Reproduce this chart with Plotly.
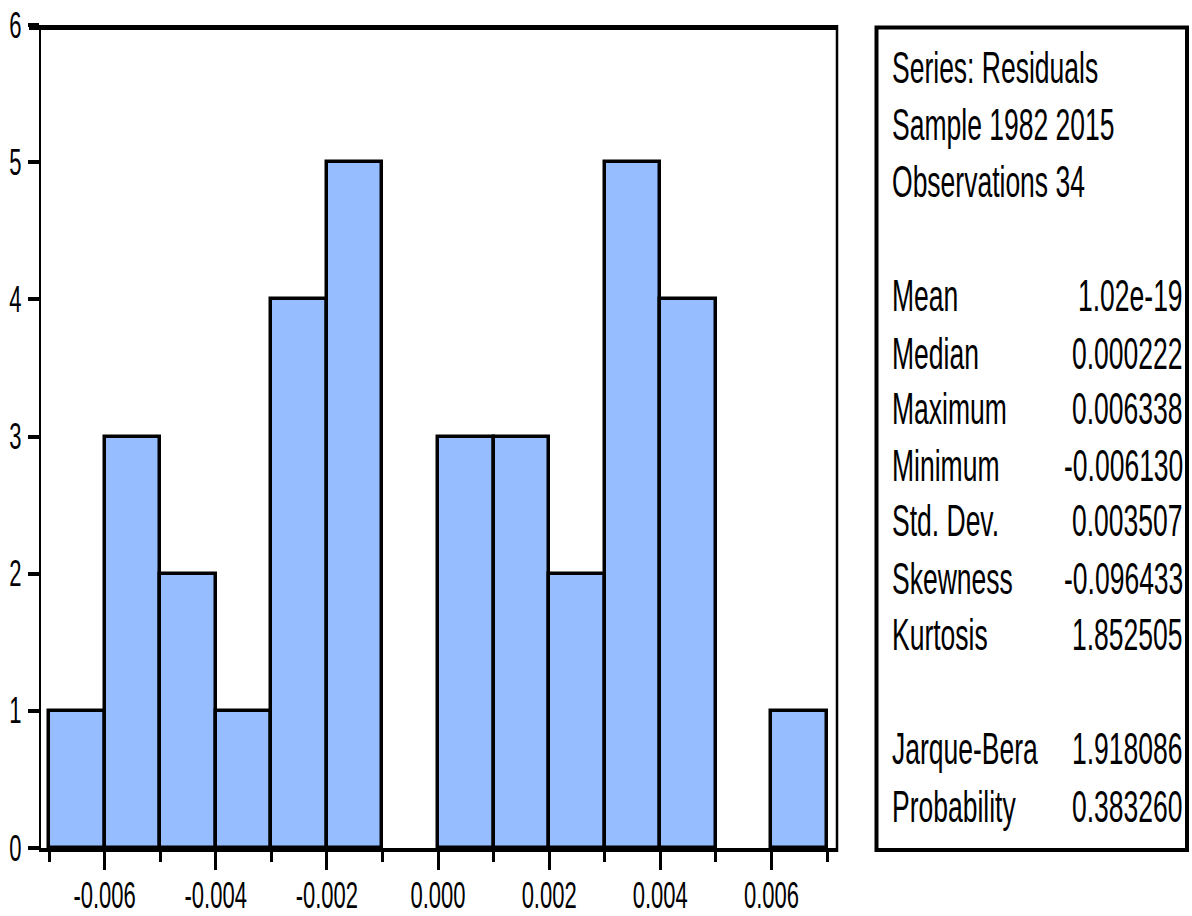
import plotly.graph_objects as go

# ---- data ----
bin_lower = [-0.007, -0.006, -0.005, -0.004, -0.003, -0.002, -0.001,
             0.000, 0.001, 0.002, 0.003, 0.004, 0.005, 0.006]
counts = [1, 3, 2, 1, 4, 5, 0, 3, 3, 2, 5, 4, 0, 1]
bin_width = 0.001

x_major = [-0.006, -0.004, -0.002, 0.000, 0.002, 0.004, 0.006]
x_major_text = ["-0.006", "-0.004", "-0.002", "0.000", "0.002", "0.004", "0.006"]
x_minor = [-0.007, -0.005, -0.003, -0.001, 0.001, 0.003, 0.005, 0.007]
y_ticks = [0, 1, 2, 3, 4, 5, 6]

header_lines = ["Series: Residuals", "Sample 1982 2015", "Observations 34"]
stat_names = ["Mean", "Median", "Maximum", "Minimum", "Std. Dev.", "Skewness", "Kurtosis"]
stat_values = ["1.02e-19", "0.000222", "0.006338", "-0.006130", "0.003507", "-0.096433", "1.852505"]
test_names = ["Jarque-Bera", "Probability"]
test_values = ["1.918086", "0.383260"]

# ---- layout constants ----
W, H = 1192, 916
FONT = "Liberation Sans, Arial, sans-serif"
BAR_COLOR = "rgb(149,189,255)"
TXT = 26.5
TICK = 22
STRETCH = 1.65


def px(xp):
    return xp / W


def py(yp):
    return 1 - yp / H


centers = [b + bin_width / 2 for b in bin_lower]
yvals = [c if c > 0 else None for c in counts]

fig = go.Figure()
fig.add_trace(go.Bar(
    x=centers, y=yvals, width=[bin_width] * len(centers),
    marker=dict(color=BAR_COLOR, line=dict(color="black", width=3.5)),
    showlegend=False, hoverinfo="skip",
))

shapes = []
# frame of the histogram panel
shapes.append(dict(type="line", xref="paper", yref="paper", x0=px(40), x1=px(40), y0=py(25), y1=py(852),
                   line=dict(color="black", width=2)))
shapes.append(dict(type="line", xref="paper", yref="paper", x0=px(837), x1=px(837), y0=py(25), y1=py(852),
                   line=dict(color="black", width=2.5)))
shapes.append(dict(type="line", xref="paper", yref="paper", x0=px(29), x1=px(838), y0=py(27.5), y1=py(27.5),
                   line=dict(color="black", width=5)))
shapes.append(dict(type="line", xref="paper", yref="paper", x0=px(39), x1=px(838), y0=py(850), y1=py(850),
                   line=dict(color="black", width=4)))
# statistics box
shapes.append(dict(type="rect", xref="paper", yref="paper", x0=px(876.5), x1=px(1187), y0=py(27.5), y1=py(850),
                   line=dict(color="black", width=4), fillcolor="rgba(0,0,0,0)"))

annotations = []


def add_text(t, xpix, ypix, anchor):
    annotations.append(dict(text=t, x=px(xpix), y=py(ypix), xref="paper", yref="paper",
                            xanchor=anchor, yanchor="middle", showarrow=False,
                            font=dict(family=FONT, size=TXT, color="black")))


for t, yc in zip(header_lines, [68, 125, 182]):
    add_text(t, 890, yc, "left")
for n, v, yc in zip(stat_names, stat_values, [296, 354, 409, 466, 521, 579, 635]):
    add_text(n, 890, yc, "left")
    add_text(v, 1185, yc, "right")
for n, v, yc in zip(test_names, test_values, [749, 807]):
    add_text(n, 890, yc, "left")
    add_text(v, 1185, yc, "right")

fig.update_layout(
    width=W, height=H,
    margin=dict(l=0, r=0, t=0, b=0, pad=0),
    paper_bgcolor="white", plot_bgcolor="white",
    bargap=0,
    shapes=shapes, annotations=annotations,
    xaxis=dict(
        domain=[px(40), px(837)], range=[-0.007162, 0.00718],
        tickmode="array", tickvals=x_major, ticktext=x_major_text,
        ticks="outside", ticklen=19, tickwidth=3, tickcolor="black",
        minor=dict(tickmode="array", tickvals=x_minor, ticks="outside", ticklen=11, tickwidth=3,
                   tickcolor="black", showgrid=False),
        showgrid=False, zeroline=False, showline=False, automargin=False,
        tickfont=dict(family=FONT, size=TICK, color="black"),
        ticklabelstandoff=7,
    ),
    yaxis=dict(
        domain=[py(850), py(25)], range=[-0.0146, 6],
        tickmode="array", tickvals=y_ticks,
        ticks="outside", ticklen=11, tickwidth=4, tickcolor="black",
        showgrid=False, zeroline=False, showline=False, automargin=False,
        tickfont=dict(family=FONT, size=TICK, color="black"),
        ticklabelstandoff=2,
    ),
)

# remove the default page margin and give the text the tall, narrow look of the original
post = """
document.body.style.margin = '0px';
var gd = document.getElementById('{plot_id}');
gd.querySelectorAll('text').forEach(function (t) {
  var b = t.getBBox();
  if (!b || b.height === 0) { return; }
  var cy = b.y + b.height / 2;
  var old = t.getAttribute('transform') || '';
  t.setAttribute('transform', old + ' translate(0,' + cy + ') scale(1,%s) translate(0,' + (-cy) + ')');
});
""" % STRETCH

fig.write_html("out.html", post_script=post, config={"displayModeBar": False})
